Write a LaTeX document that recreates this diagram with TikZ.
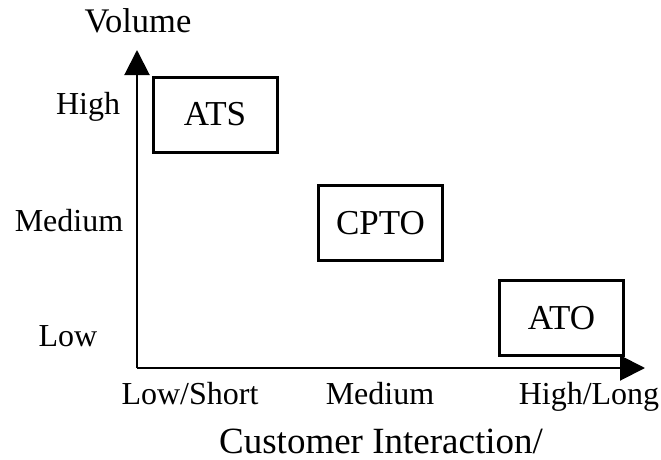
\documentclass[tikz,border=0pt]{standalone}
\usepackage{fontspec}
\setmainfont{Liberation Serif}
\usetikzlibrary{arrows.meta}
\tikzset{
  axis/.style={line width=2pt, -{Triangle[length=25pt,width=25pt]}},
  mode/.style={draw, line width=3pt, minimum width=124pt, minimum height=75pt,
    inner sep=0pt},
  modetext/.style={inner sep=0pt, anchor=base, font=\fontsize{35}{40}\selectfont},
  lbl/.style={inner sep=0pt, anchor=base, font=\fontsize{32}{38}\selectfont}
}
\begin{document}
\begin{tikzpicture}[x=1pt,y=-1pt]
  \useasboundingbox (0,0) rectangle (661,460);
  % axes
  \coordinate (origin) at (137,368);
  \coordinate (ytip) at (137,50);
  \coordinate (xtip) at (645,368);
  \draw[axis] (origin) -- (ytip);
  \draw[axis] (origin) -- (xtip);
  % axis titles
  \node[lbl, font=\fontsize{34.5}{40}\selectfont] (vol) at (138,33) {Volume};
  \node[lbl, font=\fontsize{37}{42}\selectfont] (ci) at (381,453) {Customer Interaction/};
  % volume levels
  \node[lbl] (vhigh) at (88,114) {High};
  \node[lbl] (vmed) at (69,231) {Medium};
  \node[lbl] (vlow) at (68,346) {Low};
  % interaction levels
  \node[lbl] (ilow) at (190,404) {Low/Short};
  \node[lbl] (imed) at (380,404) {Medium};
  \node[lbl] (ihigh) at (589,404) {High/Long};
  % production modes
  \node[mode] (ats) at (215,114.5) {};
  \node[mode] (cpto) at (380.5,222.5) {};
  \node[mode] (ato) at (561.5,317.5) {};
  \node[modetext] at (ats.center |- 0,125) {ATS};
  \node[modetext] at (cpto.center |- 0,234) {CPTO};
  \node[modetext] at (ato.center |- 0,329) {ATO};
\end{tikzpicture}
\end{document}
